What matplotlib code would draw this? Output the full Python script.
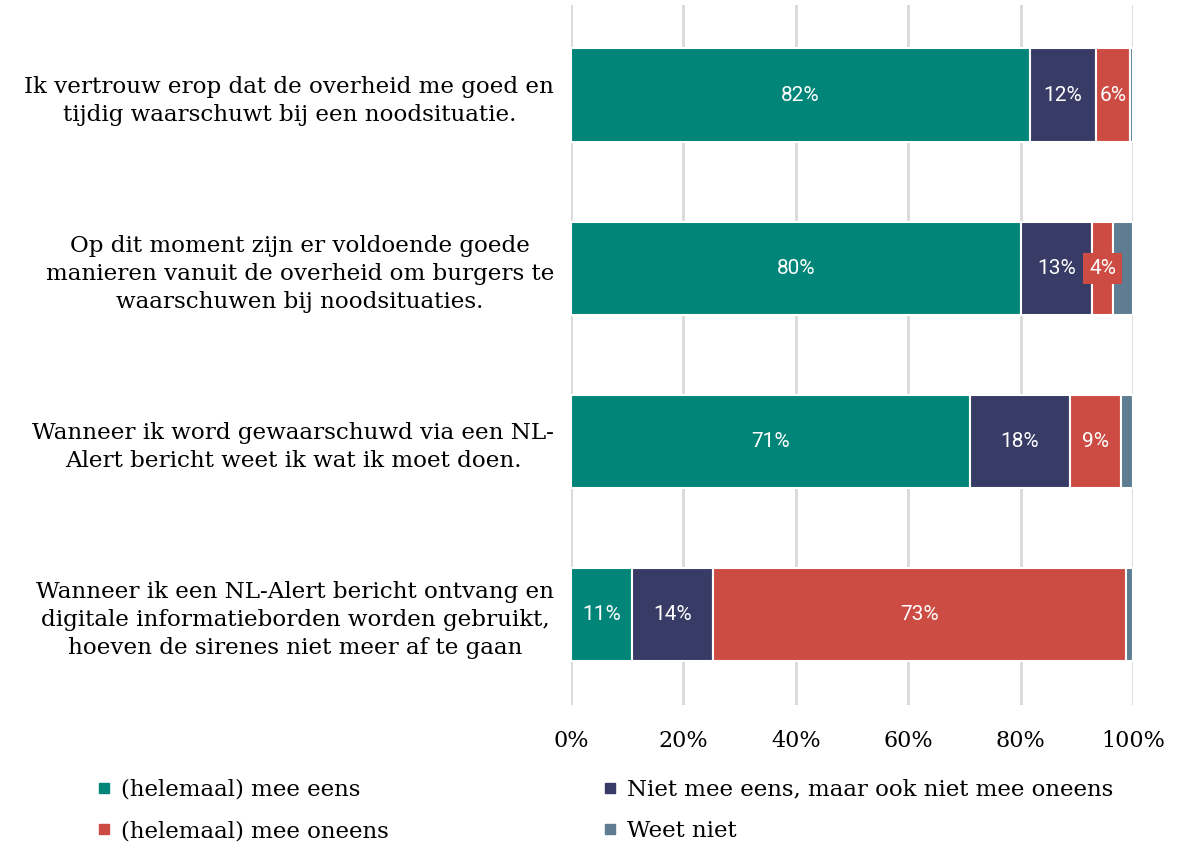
import numpy as np
import matplotlib
matplotlib.use('Agg')
from matplotlib import pyplot as plt
from matplotlib.lines import Line2D

# statements (top to bottom)
categories = [
    'Ik vertrouw erop dat de overheid me goed en\ntijdig waarschuwt bij een noodsituatie.',
    'Op dit moment zijn er voldoende goede\nmanieren vanuit de overheid om burgers te\nwaarschuwen bij noodsituaties.',
    'Wanneer ik word gewaarschuwd via een NL-\nAlert bericht weet ik wat ik moet doen.',
    'Wanneer ik een NL-Alert bericht ontvang en\ndigitale informatieborden worden gebruikt,\nhoeven de sirenes niet meer af te gaan',
]

series_names = ['(helemaal) mee eens',
                'Niet mee eens, maar ook niet mee oneens',
                '(helemaal) mee oneens',
                'Weet niet']

eens = [81.6, 80.0, 71.0, 10.9]
neutraal = [11.9, 12.7, 17.8, 14.4]
oneens = [5.9, 3.8, 9.0, 73.4]
weet_niet = [0.6, 3.5, 2.2, 1.3]

xticks = [0, 20, 40, 60, 80, 100]
xticklabels = ['0%', '20%', '40%', '60%', '80%', '100%']

colors = ['#008578', '#383B66', '#CC4C43', '#5E7D93']

serif = ['DejaVu Serif']
sans = ['Roboto', 'DejaVu Sans']

fig = plt.figure(figsize=(11.97, 8.49), dpi=100)
ax = fig.add_axes([0.477, 0.17, 0.4695, 0.824])

y = np.arange(len(categories))
left = np.zeros(len(categories))
all_series = [eens, neutraal, oneens, weet_niet]
for i, vals in enumerate(all_series):
    vals = np.array(vals)
    ax.barh(y, vals, left=left, height=0.54, color=colors[i],
            edgecolor='white', linewidth=1.5, zorder=3)
    if i < 3:
        for j, v in enumerate(vals):
            cx = left[j] + v / 2
            txt = '%d%%' % round(v)
            kw = dict(ha='center', va='center', color='white', fontsize=15,
                      family=sans, zorder=5)
            if v < 5:
                kw['bbox'] = dict(boxstyle='square,pad=0.3', fc=colors[i], ec='none')
            ax.text(cx, y[j], txt, **kw)
    left = left + vals

ax.set_xlim(0, 100)
ax.set_ylim(len(categories) - 0.48, -0.52)
ax.set_xticks(xticks)
ax.set_xticklabels(xticklabels, family=serif, fontsize=16)
ax.set_yticks(y)
ax.set_yticklabels(categories, family=serif, fontsize=16.6, multialignment='center',
                   linespacing=1.35)
ax.tick_params(axis='both', length=0)
ax.tick_params(axis='y', pad=12)
ax.tick_params(axis='x', pad=18)
ax.grid(axis='x', color='#d9d9d9', linewidth=2, zorder=0)
for s in ax.spines.values():
    s.set_visible(False)

# legend filled row by row (matplotlib fills column-wise)
order = [0, 2, 1, 3]
handles = [Line2D([], [], marker='s', linestyle='none', markersize=7,
                  markerfacecolor=colors[k], markeredgecolor=colors[k]) for k in order]
labels = [series_names[k] for k in order]
fig.legend(handles, labels, loc='upper left', bbox_to_anchor=(0.064, 0.107),
           ncol=2, frameon=False, prop={'family': serif, 'size': 16.5},
           handlelength=0.6, handletextpad=0.45, columnspacing=9.35, labelspacing=0.85)

fig.savefig('out.png', dpi=100)
